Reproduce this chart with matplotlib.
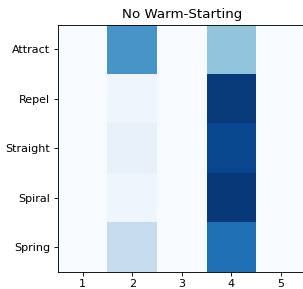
import matplotlib
matplotlib.use("Agg")
import matplotlib.pyplot as plt
import numpy as np

rows = ["Attract", "Repel", "Straight", "Spiral", "Spring"]
cols = ["1", "2", "3", "4", "5"]
col1 = [0.0, 0.0, 0.0, 0.0, 0.0]
col2 = [0.61, 0.045, 0.075, 0.04, 0.245]
col3 = [0.0, 0.0, 0.0, 0.0, 0.0]
col4 = [0.40, 0.96, 0.91, 0.965, 0.75]
col5 = [0.0, 0.0, 0.0, 0.0, 0.0]

data = np.array([col1, col2, col3, col4, col5]).T

fig = plt.figure(figsize=(303/80, 289/80), dpi=80)
ax = fig.add_axes([57.9/303, 17.3/289, 247.9/303, 247.2/289])
ax.imshow(data, cmap="Blues", vmin=0, vmax=1, aspect="auto")
ax.set_xticks(range(len(cols)))
ax.set_xticklabels(cols)
ax.set_yticks(range(len(rows)))
ax.set_yticklabels(rows)
ax.set_title("No Warm-Starting")
fig.savefig("out.png", dpi=80)
